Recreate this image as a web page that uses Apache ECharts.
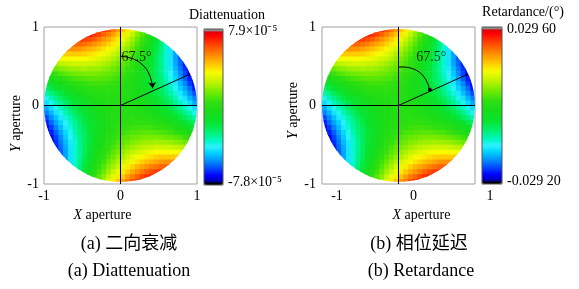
<!DOCTYPE html>
<html>
<head>
<meta charset="utf-8">
<script src="https://cdn.jsdelivr.net/npm/echarts@6/dist/echarts.min.js"></script>
<style>
  body { margin: 0; background: #fff; }
  #chart { width: 579px; height: 289px; }
</style>
</head>
<body>
<div id="chart"></div>
<script>
var _ = null;

// pupil grid: cell centres across the aperture (-1..1), 32 cells
var cellCenters = [-0.969, -0.906, -0.844, -0.781, -0.719, -0.656, -0.594, -0.531, -0.469, -0.406, -0.344, -0.281, -0.219, -0.156, -0.094, -0.031,
                   0.031, 0.094, 0.156, 0.219, 0.281, 0.344, 0.406, 0.469, 0.531, 0.594, 0.656, 0.719, 0.781, 0.844, 0.906, 0.969];
var rowCenters = cellCenters.slice().reverse(); // rows are listed top to bottom

// diattenuation, units of 1e-6 (rows top -> bottom)
var diattenuation = [
 [_,_,_,_,_,_,_,_,_,_,73,72,68,63,57,52,45,39,32,24,16,8,_,_,_,_,_,_,_,_,_,_],
 [_,_,_,_,_,_,_,_,73,72,68,65,60,56,51,45,39,33,27,19,12,4,-4,-13,_,_,_,_,_,_,_,_],
 [_,_,_,_,_,_,70,68,66,64,61,57,53,49,44,39,34,28,22,15,8,1,-7,-15,-24,-33,_,_,_,_,_,_],
 [_,_,_,_,_,62,61,60,58,56,53,50,47,43,39,34,29,23,18,11,5,-2,-10,-18,-26,-35,-44,_,_,_,_,_],
 [_,_,_,_,53,53,53,52,50,48,46,43,40,37,33,29,24,19,14,8,2,-5,-12,-19,-27,-36,-44,-53,_,_,_,_],
 [_,_,_,44,44,44,44,44,43,41,39,37,35,32,28,24,20,15,10,5,-1,-7,-14,-21,-28,-36,-44,-53,-62,_,_,_],
 [_,_,33,35,36,36,36,36,36,35,33,31,29,27,24,20,16,12,7,2,-3,-9,-15,-22,-29,-36,-44,-53,-61,-70,_,_],
 [_,_,24,26,27,28,29,29,29,28,27,26,24,22,19,16,13,9,5,0,-5,-10,-16,-22,-29,-36,-44,-52,-60,-68,_,_],
 [_,13,15,18,19,21,22,22,23,22,22,21,19,18,15,13,10,6,3,-2,-6,-11,-17,-23,-29,-36,-43,-50,-58,-66,-73,_],
 [_,4,7,10,12,14,15,16,17,17,17,16,15,14,12,10,7,4,1,-3,-7,-12,-17,-22,-28,-35,-41,-48,-56,-64,-72,_],
 [-8,-4,-1,2,5,7,9,10,11,12,12,12,11,10,9,7,5,2,-1,-4,-8,-12,-17,-22,-27,-33,-39,-46,-53,-61,-68,-73],
 [-16,-12,-8,-5,-2,1,3,5,6,7,8,8,8,7,6,5,3,1,-2,-5,-8,-12,-16,-21,-26,-31,-37,-43,-50,-57,-65,-72],
 [-24,-19,-15,-11,-8,-5,-2,0,2,3,4,5,5,5,4,3,2,0,-2,-5,-8,-11,-15,-19,-24,-29,-35,-40,-47,-53,-60,-68],
 [-32,-27,-22,-18,-14,-10,-7,-5,-3,-1,1,2,2,3,2,2,1,-1,-3,-5,-7,-10,-14,-18,-22,-27,-32,-37,-43,-49,-56,-63],
 [-39,-33,-28,-23,-19,-15,-12,-9,-6,-4,-2,-1,0,1,1,1,0,-1,-2,-4,-6,-9,-12,-15,-19,-23,-28,-33,-39,-44,-51,-57],
 [-45,-39,-34,-29,-24,-20,-16,-13,-10,-7,-5,-3,-2,-1,0,0,0,-1,-2,-3,-5,-7,-10,-13,-16,-20,-24,-29,-34,-39,-45,-52],
 [-52,-45,-39,-34,-29,-24,-20,-16,-13,-10,-7,-5,-3,-2,-1,0,0,0,-1,-2,-3,-5,-7,-10,-13,-16,-20,-24,-29,-34,-39,-45],
 [-57,-51,-44,-39,-33,-28,-23,-19,-15,-12,-9,-6,-4,-2,-1,0,1,1,1,0,-1,-2,-4,-6,-9,-12,-15,-19,-23,-28,-33,-39],
 [-63,-56,-49,-43,-37,-32,-27,-22,-18,-14,-10,-7,-5,-3,-1,1,2,2,3,2,2,1,-1,-3,-5,-7,-10,-14,-18,-22,-27,-32],
 [-68,-60,-53,-47,-40,-35,-29,-24,-19,-15,-11,-8,-5,-2,0,2,3,4,5,5,5,4,3,2,0,-2,-5,-8,-11,-15,-19,-24],
 [-72,-65,-57,-50,-43,-37,-31,-26,-21,-16,-12,-8,-5,-2,1,3,5,6,7,8,8,8,7,6,5,3,1,-2,-5,-8,-12,-16],
 [-73,-68,-61,-53,-46,-39,-33,-27,-22,-17,-12,-8,-4,-1,2,5,7,9,10,11,12,12,12,11,10,9,7,5,2,-1,-4,-8],
 [_,-72,-64,-56,-48,-41,-35,-28,-22,-17,-12,-7,-3,1,4,7,10,12,14,15,16,17,17,17,16,15,14,12,10,7,4,_],
 [_,-73,-66,-58,-50,-43,-36,-29,-23,-17,-11,-6,-2,3,6,10,13,15,18,19,21,22,22,23,22,22,21,19,18,15,13,_],
 [_,_,-68,-60,-52,-44,-36,-29,-22,-16,-10,-5,0,5,9,13,16,19,22,24,26,27,28,29,29,29,28,27,26,24,_,_],
 [_,_,-70,-61,-53,-44,-36,-29,-22,-15,-9,-3,2,7,12,16,20,24,27,29,31,33,35,36,36,36,36,36,35,33,_,_],
 [_,_,_,-62,-53,-44,-36,-28,-21,-14,-7,-1,5,10,15,20,24,28,32,35,37,39,41,43,44,44,44,44,44,_,_,_],
 [_,_,_,_,-53,-44,-36,-27,-19,-12,-5,2,8,14,19,24,29,33,37,40,43,46,48,50,52,53,53,53,_,_,_,_],
 [_,_,_,_,_,-44,-35,-26,-18,-10,-2,5,11,18,23,29,34,39,43,47,50,53,56,58,60,61,62,_,_,_,_,_],
 [_,_,_,_,_,_,-33,-24,-15,-7,1,8,15,22,28,34,39,44,49,53,57,61,64,66,68,70,_,_,_,_,_,_],
 [_,_,_,_,_,_,_,_,-13,-4,4,12,19,27,33,39,45,51,56,60,65,68,72,73,_,_,_,_,_,_,_,_],
 [_,_,_,_,_,_,_,_,_,_,8,16,24,32,39,45,52,57,63,68,72,73,_,_,_,_,_,_,_,_,_,_]
];

// retardance, units of 1e-4 degree (rows top -> bottom)
var retardance = [
 [_,_,_,_,_,_,_,_,_,_,273,270,255,236,213,195,169,146,120,90,60,30,_,_,_,_,_,_,_,_,_,_],
 [_,_,_,_,_,_,_,_,273,270,255,243,225,210,191,169,146,124,101,71,45,15,-15,-49,_,_,_,_,_,_,_,_],
 [_,_,_,_,_,_,262,255,247,240,228,213,198,184,165,146,127,105,82,56,30,4,-26,-56,-90,-124,_,_,_,_,_,_],
 [_,_,_,_,_,232,228,225,217,210,198,187,176,161,146,127,109,86,67,41,19,-7,-37,-67,-97,-131,-165,_,_,_,_,_],
 [_,_,_,_,198,198,198,195,187,180,172,161,150,139,124,109,90,71,52,30,7,-19,-45,-71,-101,-135,-165,-198,_,_,_,_],
 [_,_,_,165,165,165,165,165,161,154,146,139,131,120,105,90,75,56,37,19,-4,-26,-52,-79,-105,-135,-165,-198,-232,_,_,_],
 [_,_,124,131,135,135,135,135,135,131,124,116,109,101,90,75,60,45,26,7,-11,-34,-56,-82,-109,-135,-165,-198,-228,-262,_,_],
 [_,_,90,97,101,105,109,109,109,105,101,97,90,82,71,60,49,34,19,0,-19,-37,-60,-82,-109,-135,-165,-195,-225,-255,_,_],
 [_,49,56,67,71,79,82,82,86,82,82,79,71,67,56,49,37,22,11,-7,-22,-41,-64,-86,-109,-135,-161,-187,-217,-247,-273,_],
 [_,15,26,37,45,52,56,60,64,64,64,60,56,52,45,37,26,15,4,-11,-26,-45,-64,-82,-105,-131,-154,-180,-210,-240,-270,_],
 [-30,-15,-4,7,19,26,34,37,41,45,45,45,41,37,34,26,19,7,-4,-15,-30,-45,-64,-82,-101,-124,-146,-172,-198,-228,-255,-273],
 [-60,-45,-30,-19,-7,4,11,19,22,26,30,30,30,26,22,19,11,4,-7,-19,-30,-45,-60,-79,-97,-116,-139,-161,-187,-213,-243,-270],
 [-90,-71,-56,-41,-30,-19,-7,0,7,11,15,19,19,19,15,11,7,0,-7,-19,-30,-41,-56,-71,-90,-109,-131,-150,-176,-198,-225,-255],
 [-120,-101,-82,-67,-52,-37,-26,-19,-11,-4,4,7,7,11,7,7,4,-4,-11,-19,-26,-37,-52,-67,-82,-101,-120,-139,-161,-184,-210,-236],
 [-146,-124,-105,-86,-71,-56,-45,-34,-22,-15,-7,-4,0,4,4,4,0,-4,-7,-15,-22,-34,-45,-56,-71,-86,-105,-124,-146,-165,-191,-213],
 [-169,-146,-127,-109,-90,-75,-60,-49,-37,-26,-19,-11,-7,-4,0,0,0,-4,-7,-11,-19,-26,-37,-49,-60,-75,-90,-109,-127,-146,-169,-195],
 [-195,-169,-146,-127,-109,-90,-75,-60,-49,-37,-26,-19,-11,-7,-4,0,0,0,-4,-7,-11,-19,-26,-37,-49,-60,-75,-90,-109,-127,-146,-169],
 [-213,-191,-165,-146,-124,-105,-86,-71,-56,-45,-34,-22,-15,-7,-4,0,4,4,4,0,-4,-7,-15,-22,-34,-45,-56,-71,-86,-105,-124,-146],
 [-236,-210,-184,-161,-139,-120,-101,-82,-67,-52,-37,-26,-19,-11,-4,4,7,7,11,7,7,4,-4,-11,-19,-26,-37,-52,-67,-82,-101,-120],
 [-255,-225,-198,-176,-150,-131,-109,-90,-71,-56,-41,-30,-19,-7,0,7,11,15,19,19,19,15,11,7,0,-7,-19,-30,-41,-56,-71,-90],
 [-270,-243,-213,-187,-161,-139,-116,-97,-79,-60,-45,-30,-19,-7,4,11,19,22,26,30,30,30,26,22,19,11,4,-7,-19,-30,-45,-60],
 [-273,-255,-228,-198,-172,-146,-124,-101,-82,-64,-45,-30,-15,-4,7,19,26,34,37,41,45,45,45,41,37,34,26,19,7,-4,-15,-30],
 [_,-270,-240,-210,-180,-154,-131,-105,-82,-64,-45,-26,-11,4,15,26,37,45,52,56,60,64,64,64,60,56,52,45,37,26,15,_],
 [_,-273,-247,-217,-187,-161,-135,-109,-86,-64,-41,-22,-7,11,22,37,49,56,67,71,79,82,82,86,82,82,79,71,67,56,49,_],
 [_,_,-255,-225,-195,-165,-135,-109,-82,-60,-37,-19,0,19,34,49,60,71,82,90,97,101,105,109,109,109,105,101,97,90,_,_],
 [_,_,-262,-228,-198,-165,-135,-109,-82,-56,-34,-11,7,26,45,60,75,90,101,109,116,124,131,135,135,135,135,135,131,124,_,_],
 [_,_,_,-232,-198,-165,-135,-105,-79,-52,-26,-4,19,37,56,75,90,105,120,131,139,146,154,161,165,165,165,165,165,_,_,_],
 [_,_,_,_,-198,-165,-135,-101,-71,-45,-19,7,30,52,71,90,109,124,139,150,161,172,180,187,195,198,198,198,_,_,_,_],
 [_,_,_,_,_,-165,-131,-97,-67,-37,-7,19,41,67,86,109,127,146,161,176,187,198,210,217,225,228,232,_,_,_,_,_],
 [_,_,_,_,_,_,-124,-90,-56,-26,4,30,56,82,105,127,146,165,184,198,213,228,240,247,255,262,_,_,_,_,_,_],
 [_,_,_,_,_,_,_,_,-49,-15,15,45,71,101,124,146,169,191,210,225,243,255,270,273,_,_,_,_,_,_,_,_],
 [_,_,_,_,_,_,_,_,_,_,30,60,90,120,146,169,195,213,236,255,270,273,_,_,_,_,_,_,_,_,_,_]
];

// colour bar limits (tick values) and the out-of-range caps beyond them
var diatTicks = [-78, 79];
var diatBar = [-80.5, 81.5];
var retTicks = [-292, 296];
var retBar = [-301, 305];

// angle annotation (67.5 deg measured from the y axis)
var axisLineA = [[0, 0], [0.91, 0.40]];
var arcA = [[0, 0.63], [0.42, 0.22]];
var angleTextA = [[0.21, 0.62]];
var axisLineB = [[0, 0], [0.91, 0.40]];
var arcB = [[0, 0.49], [0.41, 0.20]];
var angleTextB = [[0.43, 0.61]];

var serif = '"Liberation Serif", "Times New Roman", serif';
var cjk = '"Liberation Serif", "Noto Sans CJK SC", serif';

var colorStops = [
  [0.000, '#000000'], [0.012, '#000000'], [0.022, '#0000b4'], [0.06, '#0000ff'],
  [0.11, '#0050ff'], [0.16, '#0098ff'], [0.21, '#00d8ff'], [0.245, '#30f0ff'],
  [0.28, '#00f8c8'], [0.34, '#00f070'], [0.40, '#08e430'], [0.47, '#18dc18'],
  [0.53, '#30e010'], [0.60, '#78ec00'], [0.66, '#c0f400'], [0.72, '#f8fc00'],
  [0.78, '#ffc000'], [0.85, '#ff7800'], [0.91, '#ff3800'], [0.96, '#ff0000'],
  [0.984, '#d80010'], [0.988, '#909090'], [1.000, '#909090']
];

function hexRgb(h) {
  return [parseInt(h.substr(1, 2), 16), parseInt(h.substr(3, 2), 16), parseInt(h.substr(5, 2), 16)];
}
function palette(stops, n) {
  var out = [];
  for (var i = 0; i < n; i++) {
    var t = i / (n - 1), k = 1;
    while (k < stops.length - 1 && stops[k][0] < t) k++;
    var a = stops[k - 1], b = stops[k];
    var f = b[0] === a[0] ? 0 : Math.max(0, Math.min(1, (t - a[0]) / (b[0] - a[0])));
    var ca = hexRgb(a[1]), cb = hexRgb(b[1]);
    out.push('rgb(' + ca.map(function (c, j) { return Math.round(c + (cb[j] - c) * f); }).join(',') + ')');
  }
  return out;
}
var jet = palette(colorStops, 161);

function cells(grid) {
  var out = [];
  grid.forEach(function (row, r) {
    row.forEach(function (v, c) {
      if (v !== null) out.push([cellCenters[c], rowCenters[r], v]);
    });
  });
  return out;
}

var half = (cellCenters[1] - cellCenters[0]) / 2;
function renderCell(params, api) {
  var x = api.value(0), y = api.value(1);
  var p0 = api.coord([x - half, y + half]);
  var p1 = api.coord([x + half, y - half]);
  var o = api.coord([0, 0]);
  var e = api.coord([1, 0]);
  return {
    type: 'rect',
    shape: { x: p0[0], y: p0[1], width: p1[0] - p0[0] + 0.7, height: p1[1] - p0[1] + 0.7 },
    style: { fill: api.visual('color') },
    clipPath: { type: 'circle', shape: { cx: o[0], cy: o[1], r: e[0] - o[0] } }
  };
}

var nameRich = { i: { fontFamily: serif, fontSize: 14, color: '#000', fontStyle: 'italic' } };

function apertureX(idx, labelPad, namePad) {
  return {
    gridIndex: idx, type: 'value', min: -1, max: 1, interval: 1,
    axisLine: { show: false }, axisTick: { show: false }, splitLine: { show: false },
    axisLabel: { margin: 5, fontFamily: serif, fontSize: 14, color: '#000', padding: labelPad },
    name: '{i|X} aperture', nameLocation: 'middle', nameGap: 22,
    nameTextStyle: { fontFamily: serif, fontSize: 14, color: '#000', padding: namePad, rich: nameRich }
  };
}
function apertureY(idx, margin, gap, namePad) {
  return {
    gridIndex: idx, type: 'value', min: -1, max: 1, interval: 1,
    axisLine: { show: false }, axisTick: { show: false }, splitLine: { show: false },
    axisLabel: { margin: margin, fontFamily: serif, fontSize: 14, color: '#000' },
    name: '{i|Y} aperture', nameLocation: 'middle', nameGap: gap,
    nameTextStyle: { fontFamily: serif, fontSize: 14, color: '#000', padding: namePad, rich: nameRich }
  };
}
function barAxis(idx, range, ticks, fmt) {
  return {
    gridIndex: idx, type: 'value', position: 'right', min: range[0], max: range[1],
    axisLine: { show: false }, splitLine: { show: false },
    axisTick: { show: true, customValues: ticks, length: 3, lineStyle: { color: '#444' } },
    axisLabel: { customValues: ticks, margin: 5, fontFamily: serif, fontSize: 14, color: '#000', formatter: fmt }
  };
}

function panelSeries(gi, grid, axisLine, arc, endSymbol, endSize, textPos) {
  return [{
    type: 'custom', xAxisIndex: gi, yAxisIndex: gi,
    renderItem: renderCell, data: cells(grid), encode: { x: 0, y: 1 }, z: 1
  }, {
    type: 'line', xAxisIndex: gi, yAxisIndex: gi, data: axisLine, symbol: 'none', z: 3,
    lineStyle: { color: '#000', width: 1 },
    markLine: {
      silent: true, symbol: 'none', label: { show: false },
      lineStyle: { color: '#000', width: 1, type: 'solid' },
      data: [{ xAxis: 0 }, { yAxis: 0 }]
    }
  }, {
    type: 'lines', coordinateSystem: 'cartesian2d', xAxisIndex: gi, yAxisIndex: gi, z: 3,
    symbol: ['none', endSymbol], symbolSize: endSize,
    lineStyle: { color: '#000', width: 1, curveness: 0.42, opacity: 1 },
    data: [{ coords: arc }]
  }, {
    type: 'scatter', xAxisIndex: gi, yAxisIndex: gi, data: textPos, symbolSize: 0, z: 4,
    label: { show: true, position: 'inside', formatter: '67.5°', fontFamily: serif, fontSize: 14, color: '#000' }
  }];
}

var chart = echarts.init(document.getElementById('chart'), null, { renderer: 'canvas' });

var option = {
  backgroundColor: '#fff',
  animation: false,
  title: [
    { text: 'Diattenuation', left: 227, top: 8, textAlign: 'center', padding: 0,
      textStyle: { fontFamily: serif, fontSize: 14, fontWeight: 'normal', color: '#000' } },
    { text: 'Retardance/(°)', left: 523, top: 5, textAlign: 'center', padding: 0,
      textStyle: { fontFamily: serif, fontSize: 14, fontWeight: 'normal', color: '#000' } },
    { text: '(a) 二向衰减', left: 129, top: 235, textAlign: 'center', padding: 0,
      textStyle: { fontFamily: cjk, fontSize: 18, fontWeight: 'normal', color: '#000' } },
    { text: '(a) Diattenuation', left: 129, top: 262, textAlign: 'center', padding: 0,
      textStyle: { fontFamily: serif, fontSize: 18, fontWeight: 'normal', color: '#000' } },
    { text: '(b) 相位延迟', left: 419, top: 235, textAlign: 'center', padding: 0,
      textStyle: { fontFamily: cjk, fontSize: 18, fontWeight: 'normal', color: '#000' } },
    { text: '(b) Retardance', left: 421, top: 262, textAlign: 'center', padding: 0,
      textStyle: { fontFamily: serif, fontSize: 18, fontWeight: 'normal', color: '#000' } }
  ],
  grid: [
    { left: 44, top: 27, width: 153, height: 157, show: true, borderColor: '#a0a0a0', borderWidth: 1 },
    { left: 322, top: 27, width: 153, height: 157, show: true, borderColor: '#a0a0a0', borderWidth: 1 },
    { left: 204, top: 29, width: 19, height: 156, show: true, borderColor: '#555', borderWidth: 1, z: 6 },
    { left: 482, top: 27, width: 20, height: 157, show: true, borderColor: '#555', borderWidth: 1, z: 6 }
  ],
  xAxis: [
    apertureX(0, 0, [0, 36, 0, 0]),
    apertureX(1, [0, 0, 0, 30], [0, 0, 0, 46]),
    { gridIndex: 2, type: 'value', show: false },
    { gridIndex: 3, type: 'value', show: false }
  ],
  yAxis: [
    apertureY(0, 5, 19, [0, 36, 0, 0]),
    apertureY(1, 6, 21, [0, 10, 0, 0]),
    barAxis(2, diatBar, diatTicks, function (v) { return (v / 10).toFixed(1) + '×10⁻⁵'; }),
    barAxis(3, retBar, retTicks, function (v) {
      var s = (v / 1e4).toFixed(5);
      return s.slice(0, -2) + ' ' + s.slice(-2);
    })
  ],
  visualMap: [
    { type: 'continuous', seriesIndex: 0, dimension: 2, min: diatBar[0], max: diatBar[1],
      left: 204, top: 29, itemWidth: 19, itemHeight: 156, padding: 0, calculable: false,
      inRange: { color: jet } },
    { type: 'continuous', seriesIndex: 4, dimension: 2, min: retBar[0], max: retBar[1],
      left: 482, top: 27, itemWidth: 20, itemHeight: 157, padding: 0, calculable: false,
      inRange: { color: jet } }
  ],
  series: panelSeries(0, diattenuation, axisLineA, arcA, 'arrow', 6, angleTextA)
    .concat(panelSeries(1, retardance, axisLineB, arcB, 'circle', 4, angleTextB))
};

chart.setOption(option);
</script>
</body>
</html>
